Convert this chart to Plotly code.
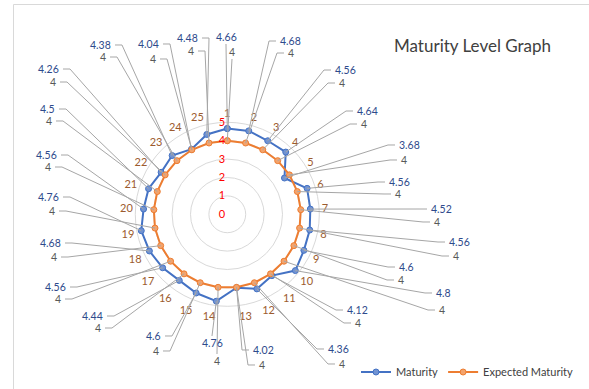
import math
import plotly.graph_objects as go

# ---------------- data ----------------
categories = ["1", "2", "3", "4", "5", "6", "7", "8", "9", "10", "11", "12", "13",
              "14", "15", "16", "17", "18", "19", "20", "21", "22", "23", "24", "25"]
maturity = [4.66, 4.68, 4.56, 4.64, 3.68, 4.56, 4.52, 4.56, 4.6, 4.8, 4.12, 4.36, 4.02,
            4.76, 4.6, 4.44, 4.56, 4.68, 4.76, 4.56, 4.5, 4.26, 4.38, 4.04, 4.48]
expected = [4, 4, 4, 4, 4, 4, 4, 4, 4, 4, 4, 4, 4,
            4, 4, 4, 4, 4, 4, 4, 4, 4, 4, 4, 4]
radial_ticks = [0, 1, 2, 3, 4, 5]
series_names = ["Maturity", "Expected Maturity"]

# ---------------- layout / geometry ----------------
W, H = 589, 389
CX, CY, R = 227.3, 214.3, 92.0   # polar centre (px) and radius of r=5 (px)
RMAX = 5

# data-label placement (side, blue label x, y, gray label x, y) in px
# side: R = text right of leader, L = text left, B = leader to bottom, T = leader to top
LABEL_LAYOUT = [
    ("B", 226, 37, 232, 52),
    ("R", 278, 41, 286, 53),
    ("R", 333, 70, 337, 83),
    ("R", 355, 111, 359, 124),
    ("R", 397, 145, 399, 160),
    ("R", 387, 182, 393, 194),
    ("R", 429, 209, 432, 222),
    ("R", 447, 242, 451, 256),
    ("R", 397, 267, 396, 280),
    ("R", 434, 293, 437, 310),
    ("R", 345, 310, 353, 323),
    ("R", 326, 349, 337, 364),
    ("R", 251, 350, 257, 365),
    ("T", 212, 343, 217, 361),
    ("L", 163, 336, 161, 351),
    ("L", 105, 316, 103, 328),
    ("L", 68, 287, 63, 299),
    ("L", 63, 243, 59, 257),
    ("L", 61, 197, 57, 211),
    ("L", 59, 155, 53, 167),
    ("L", 57, 109, 54, 121),
    ("L", 61, 69, 58, 82),
    ("L", 113, 45, 108, 57),
    ("L", 161, 44, 158, 59),
    ("L", 200, 38, 196, 51),
]

FONT = "Lato, 'Open Sans', sans-serif"
BLUE = "#4472C4"
ORANGE = "#ED7D31"
BLUE_TXT = "#2E4A8C"
GRAY_TXT = "#595959"
BROWN = "#9C5B2E"
LEADER = "#A6A6A6"
LABEL_SIZE = 10.5


def px2paper(x, y):
    return x / W, 1 - y / H


def point_px(value, idx):
    th = 2 * math.pi * idx / len(categories)
    r = value / RMAX * R
    return CX + r * math.sin(th), CY - r * math.cos(th)


fig = go.Figure()
fig.add_trace(go.Scatterpolar(
    r=maturity + maturity[:1], theta=categories + categories[:1],
    mode="lines+markers", name=series_names[0],
    line=dict(color=BLUE, width=2),
    marker=dict(size=6, color="#7193D2", line=dict(color=BLUE, width=1)),
))
fig.add_trace(go.Scatterpolar(
    r=expected + expected[:1], theta=categories + categories[:1],
    mode="lines+markers", name=series_names[1],
    line=dict(color=ORANGE, width=2),
    marker=dict(size=6, color="#F3A36C", line=dict(color=ORANGE, width=1)),
))

shapes = []
annotations = []

# chart border (Excel chart area)
shapes.append(dict(type="rect", xref="paper", yref="paper",
                   x0=13.5 / W, x1=1.05, y0=-0.05, y1=1 - 4.5 / H,
                   line=dict(color="#D9D9D9", width=1), fillcolor="rgba(0,0,0,0)"))

for i, lay in enumerate(LABEL_LAYOUT):
    side = lay[0]
    items = [(maturity[i], lay[1], lay[2], f"{maturity[i]:g}", BLUE_TXT),
             (expected[i], lay[3], lay[4], f"{expected[i]:g}", GRAY_TXT)]
    for val, x, y, txt, col in items:
        p0 = point_px(val, i)
        if side == "R":
            pts = [p0, (x - 9, y), (x - 2, y)]
            xa = "left"
        elif side == "L":
            pts = [p0, (x + 9, y), (x + 2, y)]
            xa = "right"
        elif side == "B":
            pts = [p0, (x, y + 7)]
            xa = "center"
        else:
            pts = [p0, (x, y - 7)]
            xa = "center"
        path = ""
        for k, (qx, qy) in enumerate(pts):
            u, v = px2paper(qx, qy)
            path += ("M" if k == 0 else " L") + f" {u:.5f},{v:.5f}"
        shapes.append(dict(type="path", xref="paper", yref="paper", path=path,
                           line=dict(color=LEADER, width=1)))
        u, v = px2paper(x, y)
        annotations.append(dict(x=u, y=v, xref="paper", yref="paper", text=txt,
                                showarrow=False, xanchor=xa, yanchor="middle",
                                font=dict(family=FONT, size=LABEL_SIZE, color=col)))

# title
tx, ty = px2paper(472, 45)
annotations.append(dict(x=tx, y=ty, xref="paper", yref="paper",
                        text="Maturity Level Graph", showarrow=False,
                        xanchor="center", yanchor="middle",
                        font=dict(family=FONT, size=17, color="#404040")))

dx0, dy0 = (CX - R) / W, (H - CY - R) / H
dx1, dy1 = (CX + R) / W, (H - CY + R) / H

lx, ly = px2paper(578, 372)
fig.update_layout(
    width=W, height=H, autosize=False,
    margin=dict(l=0, r=0, t=0, b=0),
    paper_bgcolor="white", plot_bgcolor="white",
    font=dict(family=FONT, size=11, color="#404040"),
    showlegend=True,
    legend=dict(orientation="h", x=lx, y=ly, xanchor="right", yanchor="middle",
                bgcolor="rgba(0,0,0,0)", font=dict(family=FONT, size=11, color="#404040"),
                itemwidth=30),
    polar=dict(
        domain=dict(x=[dx0, dx1], y=[dy0, dy1]),
        bgcolor="rgba(0,0,0,0)",
        radialaxis=dict(range=[0, RMAX], tickvals=radial_ticks, angle=90, tickangle=90,
                        side="counterclockwise",
                        ticksuffix="&nbsp;&nbsp;&nbsp;&nbsp;&nbsp;",
                        showline=False, ticks="", gridcolor="#D9D9D9", gridwidth=1,
                        tickfont=dict(family=FONT, size=11, color="#FF0000")),
        angularaxis=dict(direction="clockwise", rotation=90, showgrid=False,
                         linecolor="#D9D9D9", linewidth=1, ticks="",
                         tickfont=dict(family=FONT, size=11, color=BROWN)),
    ),
    shapes=shapes,
    annotations=annotations,
)

fig.write_html("out.html")
